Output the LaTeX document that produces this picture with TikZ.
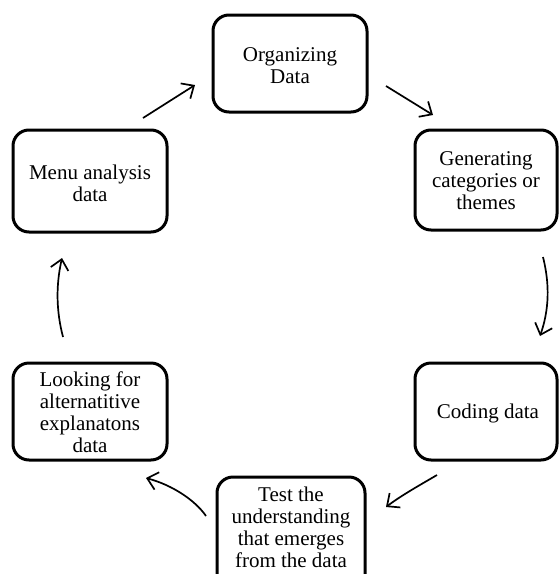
\documentclass[tikz,border=0pt]{standalone}
\usepackage{fontspec}
\setmainfont{Liberation Serif}
\usetikzlibrary{arrows.meta}
\begin{document}
\begin{tikzpicture}[x=1pt,y=-1pt,
  box/.style={draw=black, line width=3pt, rounded corners=16pt, inner sep=0pt},
  txt/.style={align=center, font=\fontsize{21}{22}\selectfont, inner sep=0pt},
  arr/.style={line width=1.7pt, -{Straight Barb[length=10pt,width=18pt,line width=1.7pt]}}]
\useasboundingbox (0,0) rectangle (558,574);
% boxes
\node[box, minimum width=154pt, minimum height=97pt] (org) at (290,63.5) {};
\node[txt] (orgt) at (290,66) {Organizing\\Data};
\node[box, minimum width=142pt, minimum height=100pt] (gen) at (486,180) {};
\node[txt] (gent) at (486,181) {Generating\\categories or\\themes};
\node[box, minimum width=142pt, minimum height=97pt] (cod) at (486,411.5) {};
\node[txt] (codt) at (488,413) {Coding data};
\node[box, minimum width=148pt, minimum height=116pt] (tst) at (291,535) {};
\node[txt] (tstt) at (291,527) {Test the\\understanding\\that emerges\\from the data};
\node[box, minimum width=154pt, minimum height=97pt] (look) at (90,411.5) {};
\node[txt] (lookt) at (90,412) {Looking for\\alternatitive\\explanatons\\data};
\node[box, minimum width=154pt, minimum height=102pt] (menu) at (90,181) {};
\node[txt] (menut) at (90,183) {Menu analysis\\data};
% arrow ends
\coordinate (a1s) at (143,118); \coordinate (a1e) at (195,85);
\coordinate (a2s) at (386,86);  \coordinate (a2e) at (433,115);
\coordinate (a3s) at (543,257); \coordinate (a3e) at (540,336);
\coordinate (a4s) at (437,475); \coordinate (a4e) at (386,507);
\coordinate (a5s) at (206,516); \coordinate (a5e) at (146,478);
\coordinate (a6s) at (63,337);  \coordinate (a6e) at (62,258);
\draw[arr] (a1s) -- (a1e);
\draw[arr] (a2s) -- (a2e);
\draw[arr] (a3s) .. controls (550,285) and (549,310) .. (a3e);
\draw[arr] (a4s) .. controls (420,485) and (402,495) .. (a4e);
\draw[arr] (a5s) .. controls (195,500) and (172,485) .. (a5e);
\draw[arr] (a6s) .. controls (56,310) and (56,285) .. (a6e);
\end{tikzpicture}
\end{document}
